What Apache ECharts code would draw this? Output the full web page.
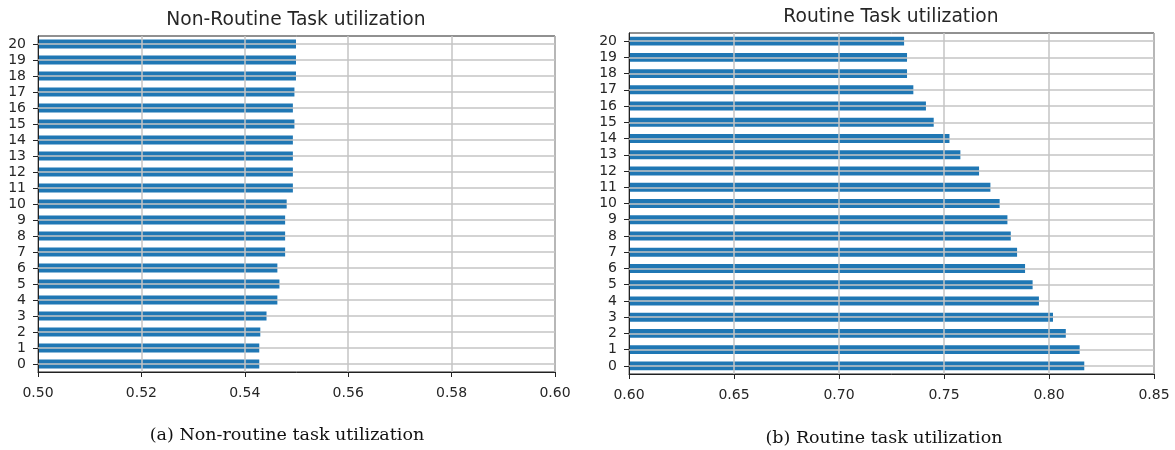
<!DOCTYPE html>
<html>
<head>
<meta charset="utf-8">
<script src="https://cdn.jsdelivr.net/npm/echarts@6/dist/echarts.min.js"></script>
<style>
  html, body { margin: 0; padding: 0; background: #fff; }
  #chart { width: 1175px; height: 450px; }
</style>
</head>
<body>
<div id="chart"></div>
<script>
// Scenario index shown on the vertical axis of both panels
const categories = ['0','1','2','3','4','5','6','7','8','9','10','11','12','13','14','15','16','17','18','19','20'];

// Mean utilization of non-routine tasks per scenario
const nonRoutine = [0.5428, 0.5428, 0.5430, 0.5442, 0.5463, 0.5467, 0.5463, 0.5478, 0.5478, 0.5478, 0.5481,
                    0.5493, 0.5493, 0.5493, 0.5493, 0.5496, 0.5493, 0.5496, 0.5499, 0.5499, 0.5499];

// Mean utilization of routine tasks per scenario
const routine = [0.8168, 0.8146, 0.8080, 0.8019, 0.7952, 0.7922, 0.7886, 0.7848, 0.7818, 0.7802, 0.7765,
                 0.7721, 0.7667, 0.7578, 0.7526, 0.7451, 0.7414, 0.7354, 0.7324, 0.7324, 0.7310];

const panelTitles = ['Non-Routine Task utilization', 'Routine Task utilization'];
const captions = ['(a) Non-routine task utilization', '(b) Routine task utilization'];

const TEXT = '#262626';
const GRIDLINE = '#c4c4c4';
const BAR = '#1f77b4';
const SANS = 'DejaVu Sans';
const SERIF = 'DejaVu Serif';

function valueAxis(gridIndex, min, max, interval) {
  return {
    type: 'value', gridIndex, min, max, interval, z: 3,
    axisLine: { show: true, lineStyle: { color: '#222', width: 1 } },
    axisTick: { show: true, length: 5, lineStyle: { color: '#222' } },
    axisLabel: { color: TEXT, fontFamily: SANS, fontSize: 14, margin: 14,
                 formatter: v => v.toFixed(2) },
    splitLine: { show: true, lineStyle: { color: GRIDLINE, width: 1.5 } }
  };
}

function categoryAxis(gridIndex) {
  return {
    type: 'category', gridIndex, data: categories, z: 3,
    axisLine: { show: true, lineStyle: { color: '#222', width: 1 } },
    axisTick: { show: true, alignWithLabel: true, length: 5, lineStyle: { color: '#222' } },
    axisLabel: { color: TEXT, fontFamily: SANS, fontSize: 14, margin: 12, interval: 0 },
    splitLine: { show: false }
  };
}

function barSeries(idx, values) {
  return {
    type: 'bar', xAxisIndex: idx, yAxisIndex: idx, data: values,
    barWidth: '55%',
    itemStyle: { color: BAR },
    silent: true,
    // horizontal grid lines through the centre of every category
    markLine: {
      silent: true, symbol: ['none', 'none'], animation: false,
      label: { show: false },
      lineStyle: { color: GRIDLINE, width: 1.5, type: 'solid' },
      data: categories.map(c => ({ yAxis: c }))
    }
  };
}

function textTitle(text, x, y, family, size, color) {
  return { text, left: x, top: y, textAlign: 'center', padding: 0,
           textStyle: { fontFamily: family, fontSize: size, fontWeight: 'normal', color } };
}

const chart = echarts.init(document.getElementById('chart'), null, { renderer: 'canvas' });
chart.setOption({
  animation: false,
  backgroundColor: '#fff',
  title: [
    textTitle(panelTitles[0], 296, 11, SANS, 18.7, TEXT),
    textTitle(panelTitles[1], 891, 8, SANS, 18.7, TEXT),
    textTitle(captions[0], 287, 426, SERIF, 17.5, '#111'),
    textTitle(captions[1], 884, 429, SERIF, 17.5, '#111')
  ],
  grid: [
    { left: 38, top: 36, width: 517, height: 336, show: true, borderColor: '#222', borderWidth: 1, containLabel: false },
    { left: 629, top: 33, width: 525, height: 341, show: true, borderColor: '#222', borderWidth: 1, containLabel: false }
  ],
  xAxis: [ valueAxis(0, 0.50, 0.60, 0.02), valueAxis(1, 0.60, 0.85, 0.05) ],
  yAxis: [ categoryAxis(0), categoryAxis(1) ],
  series: [ barSeries(0, nonRoutine), barSeries(1, routine) ]
});
</script>
</body>
</html>
